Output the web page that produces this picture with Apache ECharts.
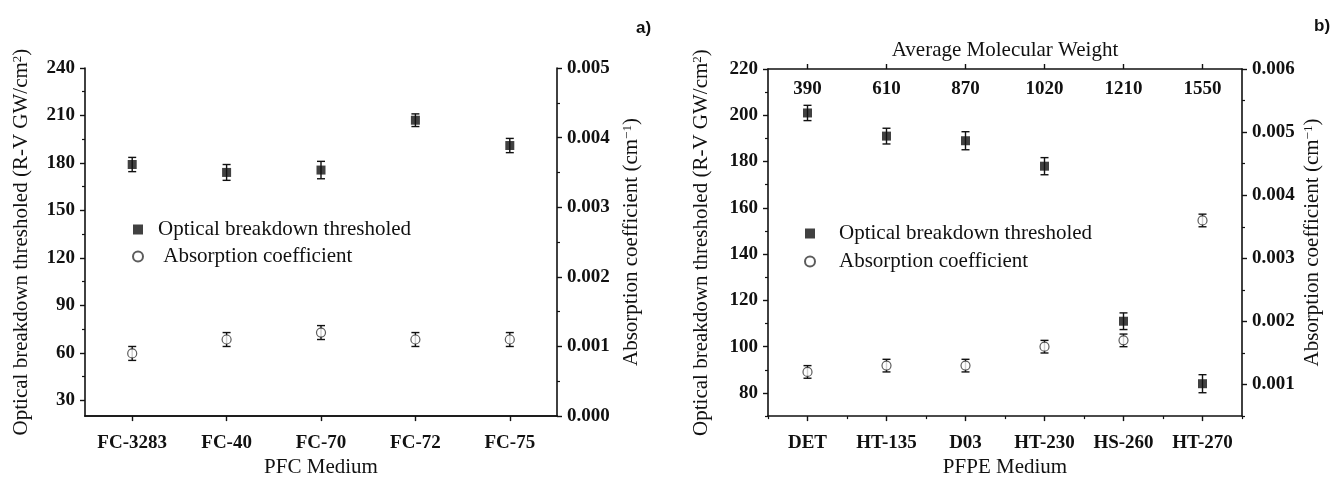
<!DOCTYPE html>
<html>
<head>
<meta charset="utf-8">
<script src="https://cdn.jsdelivr.net/npm/echarts@6/dist/echarts.min.js"></script>
<style>
  html, body { margin: 0; padding: 0; background: #fff; }
  #chart { width: 1333px; height: 483px; }
</style>
</head>
<body>
<div id="chart"></div>
<script>
// ---------- data ----------
const pfcCategories = ['FC-3283', 'FC-40', 'FC-70', 'FC-72', 'FC-75'];
const pfcThreshold = [179, 174, 175.5, 207, 191];
const pfcThresholdErr = [4.5, 5, 5.5, 4, 4.5];
const pfcAbsorption = [0.0009, 0.0011, 0.0012, 0.0011, 0.0011];
const pfcAbsorptionErr = [0.0001, 0.0001, 0.0001, 0.0001, 0.0001];

const pfpeCategories = ['DET', 'HT-135', 'D03', 'HT-230', 'HS-260', 'HT-270'];
const pfpeMolWeight = ['390', '610', '870', '1020', '1210', '1550'];
const pfpeThreshold = [201, 191, 189, 178, 111, 84];
const pfpeThresholdErr = [3.3, 3.4, 3.9, 3.7, 3.6, 3.9];
const pfpeAbsorption = [0.0012, 0.0013, 0.0013, 0.0016, 0.0017, 0.0036];
const pfpeAbsorptionErr = [0.0001, 0.0001, 0.0001, 0.0001, 0.0001, 0.0001];

const pfcLeftLabels = [30, 60, 90, 120, 150, 180, 210, 240];
const pfcLeftMinor = [45, 75, 105, 135, 165, 195, 225];
const pfcRightLabels = [0, 0.001, 0.002, 0.003, 0.004, 0.005];
const pfcRightMinor = [0.0005, 0.0015, 0.0025, 0.0035, 0.0045];
const pfpeLeftLabels = [80, 100, 120, 140, 160, 180, 200, 220];
const pfpeLeftMinor = [70, 90, 110, 130, 150, 170, 190, 210];
const pfpeRightLabels = [0.001, 0.002, 0.003, 0.004, 0.005, 0.006];
const pfpeRightMinor = [0.0005, 0.0015, 0.0025, 0.0035, 0.0045, 0.0055];

// ---------- styles ----------
const SERIF = "'Liberation Serif', 'Times New Roman', serif";
const INK = '#111';
const tickLabel = { fontFamily: SERIF, fontWeight: 'bold', fontSize: 19, color: INK };
const nameStyle = {
  fontFamily: SERIF, fontSize: 21, color: INK,
  rich: { sup: { fontFamily: SERIF, fontSize: 13, color: INK, verticalAlign: 'top', lineHeight: 13 } }
};
const axisLine = { show: true, lineStyle: { color: INK, width: 1.6 } };

function errRender(capHalf) {
  return function (params, api) {
    const x = api.value(0);
    const lo = api.coord([x, api.value(1)]);
    const hi = api.coord([x, api.value(2)]);
    const st = { stroke: INK, lineWidth: 1.4, fill: null };
    return {
      type: 'group',
      children: [
        { type: 'line', shape: { x1: lo[0], y1: lo[1], x2: hi[0], y2: hi[1] }, style: st },
        { type: 'line', shape: { x1: lo[0] - capHalf, y1: lo[1], x2: lo[0] + capHalf, y2: lo[1] }, style: st },
        { type: 'line', shape: { x1: hi[0] - capHalf, y1: hi[1], x2: hi[0] + capHalf, y2: hi[1] }, style: st }
      ]
    };
  };
}
function errData(vals, errs) { return vals.map((v, i) => [i, v - errs[i], v + errs[i]]); }

function mainY(grid, pos, min, max, labels, name, gap, fmt) {
  return {
    type: 'value', gridIndex: grid, position: pos, min: min, max: max,
    splitLine: { show: false },
    axisLine: axisLine,
    axisTick: { show: true, inside: false, length: 5, lineStyle: { color: INK, width: 1.4 }, customValues: labels },
    axisLabel: { show: true, margin: 10, customValues: labels, formatter: fmt, ...tickLabel },
    name: name, nameLocation: 'middle', nameRotate: 90, nameGap: gap, nameTextStyle: nameStyle
  };
}
function minorY(grid, pos, min, max, ticks) {
  return {
    type: 'value', gridIndex: grid, position: pos, min: min, max: max,
    splitLine: { show: false },
    axisLine: { show: false },
    axisLabel: { show: false },
    axisTick: { show: true, inside: false, length: 3, lineStyle: { color: INK, width: 1.2 }, customValues: ticks }
  };
}
const fmt3 = v => Number(v).toFixed(3);
const fmt0 = v => String(Math.round(v));

const option = {
  animation: false,
  backgroundColor: '#fff',
  title: [
    { text: 'a)', left: 631, top: 15, textStyle: { fontFamily: "'Liberation Sans', Arial, sans-serif", fontWeight: 'bold', fontSize: 17, color: INK } },
    { text: 'b)', left: 1309, top: 13, textStyle: { fontFamily: "'Liberation Sans', Arial, sans-serif", fontWeight: 'bold', fontSize: 17, color: INK } }
  ],
  grid: [
    { left: 85, top: 68, width: 472, height: 351 },
    { left: 768, top: 69, width: 474, height: 350 }
  ],
  legend: [
    {
      orient: 'vertical', left: 127, top: 214, itemWidth: 10, itemHeight: 10, itemGap: 6,
      textStyle: { fontFamily: SERIF, fontSize: 21, color: INK, padding: [0, 0, 0, 10] },
      data: [{ name: 'Optical breakdown thresholed', icon: 'rect' }, { name: ' Absorption coefficient', icon: 'circle' }]
    },
    {
      orient: 'vertical', left: 799, top: 218, itemWidth: 10, itemHeight: 10, itemGap: 7,
      textStyle: { fontFamily: SERIF, fontSize: 21, color: INK, padding: [0, 0, 0, 19] },
      data: [{ name: 'Optical breakdown thresholed', icon: 'rect' }, { name: 'Absorption coefficient', icon: 'circle' }]
    }
  ],
  xAxis: [
    {
      type: 'category', gridIndex: 0, position: 'bottom', data: pfcCategories, boundaryGap: true,
      axisLine: axisLine,
      axisTick: { show: true, alignWithLabel: true, inside: false, length: 5, lineStyle: { color: INK, width: 1.4 } },
      axisLabel: { margin: 17, ...tickLabel },
      splitLine: { show: false },
      name: 'PFC Medium', nameLocation: 'middle', nameGap: 40, nameTextStyle: nameStyle
    },
    {
      type: 'category', gridIndex: 0, position: 'top', data: pfcCategories, boundaryGap: true,
      axisLine: axisLine, axisTick: { show: false }, axisLabel: { show: false }, splitLine: { show: false }
    },
    {
      type: 'category', gridIndex: 1, position: 'bottom', data: pfpeCategories, boundaryGap: true,
      axisLine: axisLine,
      axisTick: { show: true, alignWithLabel: true, inside: false, length: 5, lineStyle: { color: INK, width: 1.4 } },
      axisLabel: { margin: 17, ...tickLabel },
      splitLine: { show: false },
      name: 'PFPE Medium', nameLocation: 'middle', nameGap: 40, nameTextStyle: nameStyle
    },
    {
      type: 'category', gridIndex: 1, position: 'bottom', data: pfpeCategories, boundaryGap: true,
      axisLine: { show: false },
      axisTick: { show: true, alignWithLabel: false, inside: false, length: 3, lineStyle: { color: INK, width: 1.2 } },
      axisLabel: { show: false }, splitLine: { show: false }
    },
    {
      type: 'category', gridIndex: 1, position: 'top', data: pfpeMolWeight, boundaryGap: true,
      axisLine: axisLine,
      axisTick: { show: true, alignWithLabel: true, inside: false, length: 5, lineStyle: { color: INK, width: 1.4 } },
      axisLabel: { inside: true, margin: 11, ...tickLabel },
      splitLine: { show: false },
      name: 'Average Molecular Weight', nameLocation: 'middle', nameGap: 8, nameTextStyle: nameStyle
    }
  ],
  yAxis: [
    mainY(0, 'left', 20, 240, pfcLeftLabels, 'Optical breakdown thresholed (R-V GW/cm{sup|2})', 53, fmt0),
    minorY(0, 'left', 20, 240, pfcLeftMinor),
    mainY(0, 'right', 0, 0.005, pfcRightLabels, 'Absorption coefficient (cm{sup|−1})', 64, fmt3),
    minorY(0, 'right', 0, 0.005, pfcRightMinor),
    mainY(1, 'left', 70, 220, pfpeLeftLabels, 'Optical breakdown thresholed (R-V GW/cm{sup|2})', 56, fmt0),
    minorY(1, 'left', 70, 220, pfpeLeftMinor),
    mainY(1, 'right', 0.0005, 0.006, pfpeRightLabels, 'Absorption coefficient (cm{sup|−1})', 60, fmt3),
    minorY(1, 'right', 0.0005, 0.006, pfpeRightMinor)
  ],
  series: [
    { type: 'custom', xAxisIndex: 0, yAxisIndex: 0, renderItem: errRender(4), data: errData(pfcThreshold, pfcThresholdErr), encode: { x: 0, y: [1, 2] }, z: 2, silent: true },
    { type: 'custom', xAxisIndex: 0, yAxisIndex: 2, renderItem: errRender(4), data: errData(pfcAbsorption, pfcAbsorptionErr), encode: { x: 0, y: [1, 2] }, z: 2, silent: true },
    { type: 'custom', xAxisIndex: 2, yAxisIndex: 4, renderItem: errRender(4), data: errData(pfpeThreshold, pfpeThresholdErr), encode: { x: 0, y: [1, 2] }, z: 2, silent: true },
    { type: 'custom', xAxisIndex: 2, yAxisIndex: 6, renderItem: errRender(4), data: errData(pfpeAbsorption, pfpeAbsorptionErr), encode: { x: 0, y: [1, 2] }, z: 2, silent: true },
    {
      name: 'Optical breakdown thresholed', type: 'scatter', xAxisIndex: 0, yAxisIndex: 0,
      symbol: 'rect', symbolSize: 9, itemStyle: { color: INK }, data: pfcThreshold, z: 3
    },
    {
      name: ' Absorption coefficient', type: 'scatter', xAxisIndex: 0, yAxisIndex: 2,
      symbol: 'circle', symbolSize: 9, itemStyle: { color: '#fff', borderColor: '#333', borderWidth: 1.2 }, data: pfcAbsorption, z: 3
    },
    {
      name: 'Optical breakdown thresholed', type: 'scatter', xAxisIndex: 2, yAxisIndex: 4,
      symbol: 'rect', symbolSize: 9, itemStyle: { color: INK }, data: pfpeThreshold, z: 3
    },
    {
      name: 'Absorption coefficient', type: 'scatter', xAxisIndex: 2, yAxisIndex: 6,
      symbol: 'circle', symbolSize: 9, itemStyle: { color: '#fff', borderColor: '#333', borderWidth: 1.2 }, data: pfpeAbsorption, z: 3
    }
  ]
};

const chart = echarts.init(document.getElementById('chart'), null, { renderer: 'canvas' });
chart.setOption(option);
</script>
</body>
</html>
